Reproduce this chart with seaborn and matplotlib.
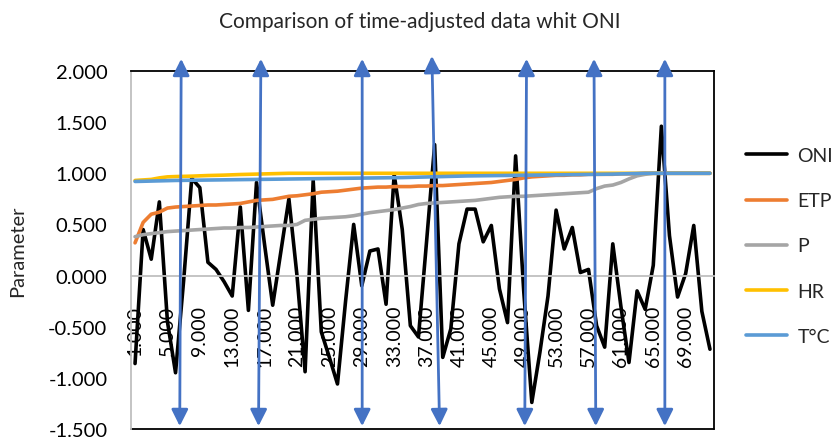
import numpy as np
import pandas as pd
import matplotlib
matplotlib.use("Agg")
import matplotlib.pyplot as plt
import seaborn as sns
from matplotlib.lines import Line2D
from matplotlib.patches import ArrowStyle

# ---------------- data ----------------
months = list(range(1, 73))

oni = [-0.86, 0.45, 0.16, 0.72, -0.45, -0.95, -0.05, 0.95, 0.86, 0.13,
       0.06, -0.06, -0.20, 0.67, -0.34, 0.91, 0.30, -0.29, 0.23, 0.75,
       0.00, -0.94, 0.93, -0.55, -0.80, -1.06, -0.25, 0.50, -0.10, 0.24,
       0.26, -0.28, 0.99, 0.45, -0.49, -0.60, 0.33, 1.28, -0.80, -0.52,
       0.31, 0.65, 0.65, 0.33, 0.49, -0.13, -0.46, 1.17, -0.15, -1.24,
       -0.75, -0.20, 0.64, 0.26, 0.47, 0.03, 0.06, -0.49, -0.70, 0.31,
       -0.30, -0.85, -0.15, -0.33, 0.10, 1.46, 0.39, -0.21, 0.02, 0.49,
       -0.35, -0.72]

etp = [0.32, 0.52, 0.60, 0.62, 0.66, 0.67, 0.675, 0.68, 0.685, 0.69,
       0.69, 0.695, 0.70, 0.705, 0.72, 0.735, 0.74, 0.745, 0.76, 0.775,
       0.78, 0.79, 0.80, 0.815, 0.82, 0.825, 0.835, 0.845, 0.855, 0.86,
       0.865, 0.865, 0.87, 0.87, 0.87, 0.875, 0.875, 0.88, 0.88, 0.885,
       0.89, 0.895, 0.90, 0.905, 0.91, 0.92, 0.93, 0.94, 0.955, 0.965,
       0.97, 0.975, 0.98, 0.98, 0.985, 0.985, 0.99, 0.99, 0.99, 0.99,
       0.995, 0.995, 0.995, 1.0, 1.0, 1.0, 1.0, 1.0, 1.0, 1.0,
       1.0, 1.0]

p = [0.38, 0.40, 0.41, 0.42, 0.43, 0.435, 0.44, 0.445, 0.45, 0.455,
     0.46, 0.465, 0.465, 0.47, 0.47, 0.475, 0.48, 0.485, 0.49, 0.49,
     0.50, 0.54, 0.55, 0.56, 0.565, 0.57, 0.575, 0.585, 0.60, 0.615,
     0.625, 0.635, 0.645, 0.66, 0.675, 0.695, 0.705, 0.71, 0.715, 0.72,
     0.725, 0.73, 0.735, 0.745, 0.755, 0.765, 0.77, 0.775, 0.775, 0.78,
     0.785, 0.79, 0.795, 0.80, 0.805, 0.81, 0.815, 0.85, 0.875, 0.885,
     0.91, 0.945, 0.975, 0.99, 1.0, 1.0, 1.0, 1.0, 1.0, 1.0,
     1.0, 1.0]

hr = [0.93, 0.935, 0.94, 0.955, 0.965, 0.968, 0.97, 0.972, 0.975, 0.978,
      0.98, 0.982, 0.985, 0.988, 0.99, 0.992, 0.994, 0.996, 0.998, 1.0,
      1.0, 1.0, 1.0, 1.0, 1.0, 1.0, 1.0, 1.0, 1.0, 1.0,
      1.0, 1.0, 1.0, 1.0, 1.0, 1.0, 1.0, 1.0, 1.0, 1.0,
      1.0, 1.0, 1.0, 1.0, 1.0, 1.0, 1.0, 1.0, 1.0, 1.0,
      1.0, 1.0, 1.0, 1.0, 1.0, 1.0, 1.0, 1.0, 1.0, 1.0,
      1.0, 1.0, 1.0, 1.0, 1.0, 1.0, 1.0, 1.0, 1.0, 1.0,
      1.0, 1.0]

tc = [0.92, 0.922, 0.924, 0.926, 0.928, 0.93, 0.931, 0.932, 0.933, 0.934,
      0.935, 0.936, 0.937, 0.938, 0.939, 0.94, 0.941, 0.942, 0.943, 0.944,
      0.945, 0.946, 0.947, 0.948, 0.949, 0.95, 0.951, 0.952, 0.953, 0.954,
      0.955, 0.956, 0.957, 0.958, 0.96, 0.962, 0.964, 0.966, 0.968, 0.97,
      0.972, 0.974, 0.975, 0.976, 0.977, 0.978, 0.979, 0.98, 0.981, 0.982,
      0.983, 0.984, 0.985, 0.986, 0.987, 0.988, 0.989, 0.99, 0.991, 0.992,
      0.994, 0.996, 0.998, 1.0, 1.0, 1.0, 1.0, 1.0, 1.0, 1.0,
      1.0, 1.0]

series_names = ["ONI", "ETP", "P", "HR", "T°C"]
series_colors = ["#000000", "#ED7D31", "#A5A5A5", "#FFC000", "#5B9BD5"]

x_tick_values = list(range(1, 73, 4))
x_tick_labels = [f"{v}.000" for v in x_tick_values]
y_tick_values = [2.0, 1.5, 1.0, 0.5, 0.0, -0.5, -1.0, -1.5]
y_tick_labels = ["2.000", "1.500", "1.000", "0.500", "0.000", "-0.500", "-1.000", "-1.500"]

# vertical double arrows (category positions at top and bottom)
arrow_x_top = [6.70, 16.54, 29.05, 37.66, 49.35, 57.68, 66.43]
arrow_x_bottom = [6.52, 16.25, 29.05, 38.61, 49.13, 57.90, 66.43]

title = "Comparison of time-adjusted data whit ONI"

# ---------------- build frame ----------------
df = pd.concat([
    pd.DataFrame({"month": months, "value": vals, "series": name})
    for name, vals in zip(series_names, [oni, etp, p, hr, tc])
], ignore_index=True)

sns.set_theme(style="white")
plt.rcParams["font.family"] = ["Lato", "DejaVu Sans"]

fig = plt.figure(figsize=(8.4, 4.39), dpi=100)
ax = fig.add_axes([131 / 840, 1 - 430 / 439, (714 - 131) / 840, (430 - 72) / 439])

sns.lineplot(data=df, x="month", y="value", hue="series",
             hue_order=series_names, palette=series_colors,
             sort=False, linewidth=2.6, ax=ax, legend=False)

ax.set_xlim(0.5, 72.5)
ax.set_ylim(-1.5, 2.0)
ax.set_xlabel("")
ax.set_ylabel("")

# spines: bottom spine moved to y=0 (category axis), gray left axis
ax.spines["bottom"].set_position(("data", 0))
ax.spines["bottom"].set_color("#BFBFBF")
ax.spines["bottom"].set_linewidth(1.3)
ax.spines["left"].set_color("#BFBFBF")
ax.spines["left"].set_linewidth(1.3)
ax.spines["top"].set_color("black")
ax.spines["top"].set_linewidth(1.3)
ax.spines["right"].set_color("black")
ax.spines["right"].set_linewidth(1.3)
ax.add_line(Line2D([0, 1], [0, 0], transform=ax.transAxes, color="black",
                   linewidth=1.3, clip_on=False))

ax.set_yticks(y_tick_values)
ax.set_yticklabels(y_tick_labels, fontsize=14.5, color="#000000")
ax.set_xticks(x_tick_values)
ax.set_xticklabels(x_tick_labels, rotation=90, fontsize=14, color="#000000")
ax.tick_params(axis="both", length=0)
ax.tick_params(axis="y", pad=17)
ax.tick_params(axis="x", pad=21)

# arrows
trans = ax.get_xaxis_transform()
style = ArrowStyle("<|-|>", head_length=0.5, head_width=0.25)
for xt, xb in zip(arrow_x_top, arrow_x_bottom):
    top_y = 1.042 if abs(xt - xb) > 0.5 else 1.034
    ax.annotate("", xy=(xt, top_y), xycoords=trans,
                xytext=(xb, 0.008), textcoords=trans,
                arrowprops=dict(arrowstyle=style, color="#4472C4", lw=2.0,
                                mutation_scale=20, shrinkA=0, shrinkB=0),
                annotation_clip=False)

# legend
handles = [Line2D([0], [0], color=c, linewidth=2.6) for c in series_colors]
fig.legend(handles, series_names, loc="center left",
           bbox_to_anchor=(746 / 840, 1 - 247 / 439), frameon=False,
           fontsize=14, handlelength=2.1, handletextpad=0.55,
           labelspacing=1.45, borderpad=0, borderaxespad=0)

fig.text(0.5, 1 - 22 / 439, title, ha="center", va="center", fontsize=15)
fig.text(18 / 840, 1 - 251 / 439, "Parameter", rotation=90,
         ha="center", va="center", fontsize=14.5)

fig.savefig("out.png", dpi=100, facecolor="white")
